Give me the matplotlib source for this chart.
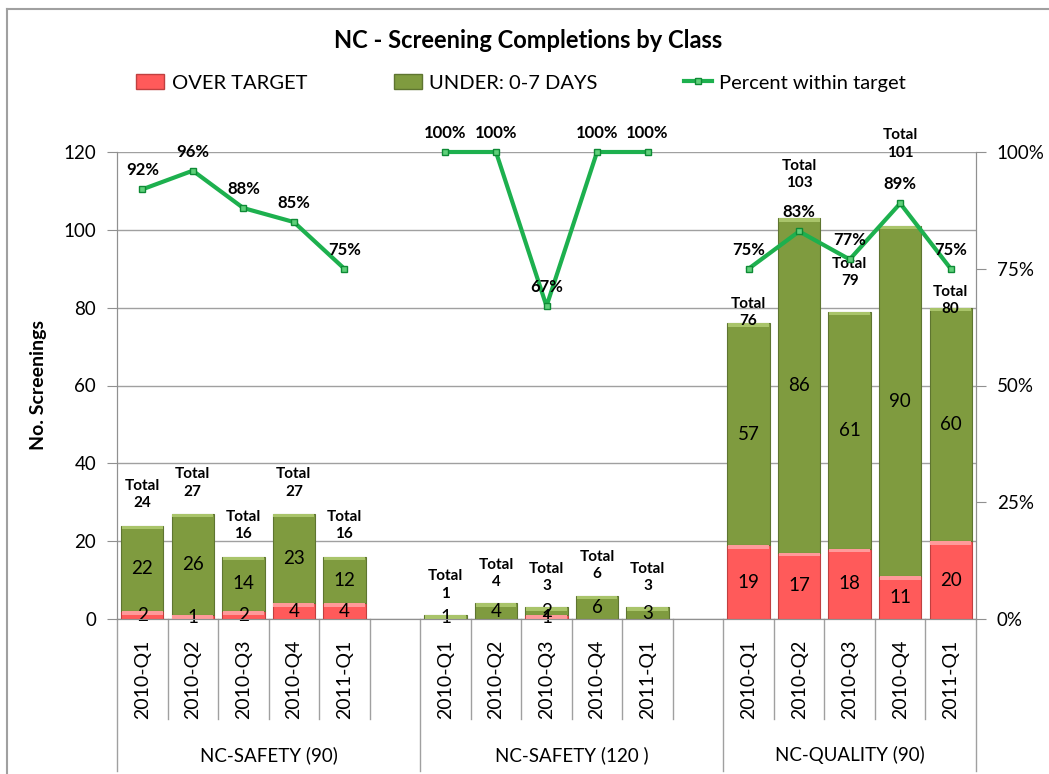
import numpy as np
import matplotlib.pyplot as plt
from matplotlib.patches import Patch
from matplotlib.lines import Line2D
import matplotlib.transforms as mtransforms

plt.rcParams['font.family'] = ['Lato', 'DejaVu Sans']

groups = ['NC-SAFETY (90)', 'NC-SAFETY (120 )', 'NC-QUALITY (90)']
quarters = ['2010-Q1', '2010-Q2', '2010-Q3', '2010-Q4', '2011-Q1']

over_target = [[2, 1, 2, 4, 4], [0, 0, 1, 0, 0], [19, 17, 18, 11, 20]]
under_7days = [[22, 26, 14, 23, 12], [1, 4, 2, 6, 3], [57, 86, 61, 90, 60]]
pct_within = [[92, 96, 88, 85, 75], [100, 100, 67, 100, 100], [75, 83, 77, 89, 75]]

# pixel nudges for the "Total" labels (manually moved in the original)
total_offsets = [[31, 31, 31, 31, 31], [30, 30, 30, 30, 30], [11, 44, 39, 82, 7]]

red = '#FF5A5A'
red_hi = '#FF9A9A'
green = '#7F9B3F'
green_hi = '#A9C46A'
line_green = '#1DB04E'

fig = plt.figure(figsize=(10.49, 7.74), dpi=100)
ax = fig.add_axes([117 / 1049, 155 / 774, (976 - 117) / 1049, 467 / 774])
ax2 = ax.twinx()

slot = 6  # 5 quarters + one blank slot per group
width = 0.84
hi = 0.9  # height of the light bevel strip on top of each segment
for gi in range(len(groups)):
    x = gi * slot + np.arange(len(quarters))
    ov = np.array(over_target[gi])
    un = np.array(under_7days[gi])
    tot = ov + un
    ax.bar(x, ov, width, color=red, edgecolor='#C04040', linewidth=0.8, zorder=3)
    ax.bar(x, un, width, bottom=ov, color=green, edgecolor='#5E7530', linewidth=0.8, zorder=3)
    ax.bar(x, np.minimum(ov, hi), width * 0.96, bottom=ov - np.minimum(ov, hi),
           color=red_hi, linewidth=0, zorder=3.5)
    ax.bar(x, np.minimum(un, hi), width * 0.96, bottom=tot - np.minimum(un, hi),
           color=green_hi, linewidth=0, zorder=3.5)
    for xi, o, u, t, off in zip(x, ov, un, tot, total_offsets[gi]):
        if o > 0:
            ax.text(xi, o / 2, str(o), ha='center', va='center', fontsize=13.5, zorder=5)
        if u > 0:
            ax.text(xi, o + u / 2, str(u), ha='center', va='center', fontsize=13.5, zorder=5)
        ax.annotate('Total\n%d' % t, (xi, t), xytext=(0, off), textcoords='offset pixels',
                    ha='center', va='center', fontsize=11, fontweight='bold',
                    linespacing=1.3, zorder=6)

    p = np.array(pct_within[gi]) / 100
    ax2.plot(x, p, color=line_green, lw=3, marker='s', ms=4.5, mfc='#5FD07A',
             mec='#0E8A35', mew=1, zorder=4, clip_on=False)
    for xi, pi in zip(x, pct_within[gi]):
        ax2.annotate('%d%%' % pi, (xi, pi / 100), xytext=(0, 19), textcoords='offset pixels',
                     ha='center', va='center', fontsize=12, fontweight='bold', zorder=6)

n_slots = slot * len(groups) - 1
ax.set_xlim(-0.5, n_slots - 0.5)
ax.set_ylim(0, 120)
ax.set_yticks(np.arange(0, 121, 20))
ax.yaxis.grid(True, color='#A0A0A0', lw=1)
ax.set_axisbelow(True)
ax.set_xticks([])
ax.tick_params(axis='y', labelsize=13.5, length=7, color='#909090', direction='out', pad=8)
ax.set_ylabel('No. Screenings', fontsize=14, fontweight='bold', labelpad=12)

ax2.set_ylim(0, 1)
ax2.set_yticks([0, 0.25, 0.5, 0.75, 1.0])
ax2.set_yticklabels(['0%', '25%', '50%', '75%', '100%'])
ax2.tick_params(axis='y', labelsize=13.5, length=7, color='#909090', direction='out', pad=8)

for a in (ax, ax2):
    a.spines['top'].set_visible(False)
    for s in ('left', 'right', 'bottom'):
        a.spines[s].set_color('#909090')

# multi-level category axis below the plot
trans = mtransforms.blended_transform_factory(ax.transData, ax.transAxes)
for gi, g in enumerate(groups):
    x0 = gi * slot - 0.5
    for k in range(len(quarters) + (1 if gi < len(groups) - 1 else 0)):
        xb = x0 + k
        y_end = -0.325 if k == 0 else -0.214
        ax.add_line(Line2D([xb, xb], [0, y_end], transform=trans, color='#A0A0A0',
                           lw=1, clip_on=False))
    for k, q in enumerate(quarters):
        ax.text(gi * slot + k, -0.1285, q, transform=trans, rotation=90, ha='center',
                va='center', fontsize=14)
    x1 = min(x0 + slot, n_slots - 0.5)
    ax.text((x0 + x1) / 2, -0.291, g, transform=trans, ha='center', va='center',
            fontsize=13.5, family=['Liberation Sans Narrow', 'Lato'])
ax.add_line(Line2D([n_slots - 0.5] * 2, [0, -0.325], transform=trans, color='#A0A0A0',
                   lw=1, clip_on=False))

fig.text(528 / 1049, 1 - 40 / 774, 'NC - Screening Completions by Class', ha='center',
         va='center', fontsize=17, fontweight='bold')

handles = [Patch(facecolor=red, edgecolor='#C04040', label='OVER TARGET'),
           Patch(facecolor=green, edgecolor='#5E7530', label='UNDER: 0-7 DAYS'),
           Line2D([], [], color=line_green, lw=3, marker='s', ms=4.5, mfc='#5FD07A',
                  mec='#0E8A35', label='Percent within target')]
fig.legend(handles=handles, loc='center', bbox_to_anchor=(521 / 1049, 1 - 83 / 774), ncol=3,
           frameon=False, fontsize=14.5, handlelength=1.4, handleheight=0.7,
           handletextpad=0.35, columnspacing=4.3)

# chart area border (left/top visible in the crop)
fig.add_artist(Line2D([7 / 1049, 7 / 1049], [0, 1 - 9 / 774], transform=fig.transFigure,
                      color='#A0A0A0', lw=1.5))
fig.add_artist(Line2D([7 / 1049, 1], [1 - 9 / 774, 1 - 9 / 774], transform=fig.transFigure,
                      color='#A0A0A0', lw=1.5))

fig.savefig('out.png', dpi=100)
